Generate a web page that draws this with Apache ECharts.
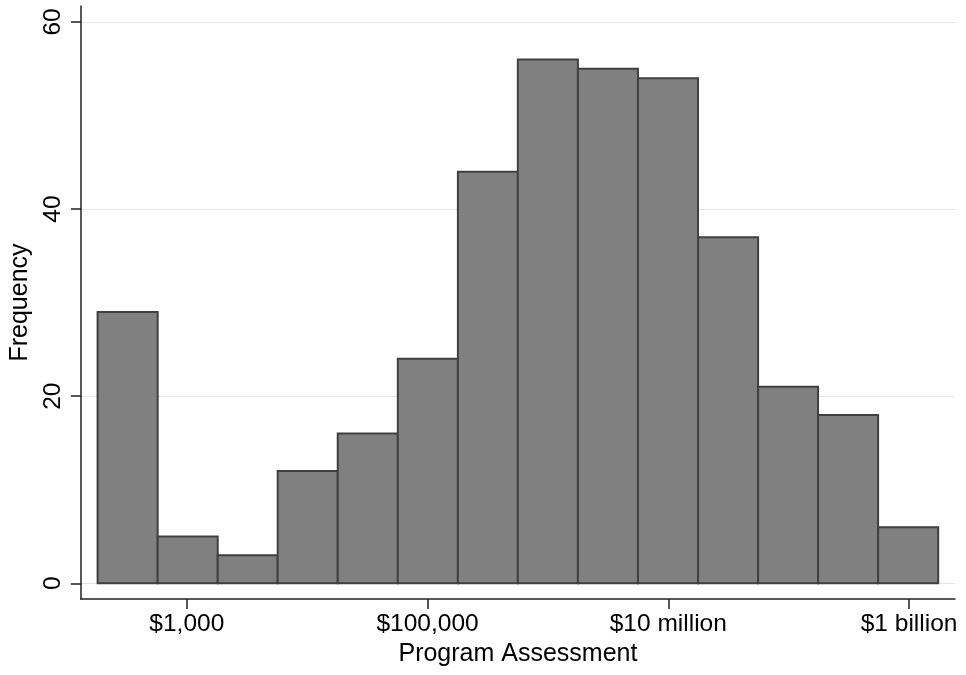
<!DOCTYPE html>
<html>
<head>
<meta charset="utf-8">
<title>Program Assessment histogram</title>
<script src="https://cdn.jsdelivr.net/npm/echarts@6/dist/echarts.min.js"></script>
<style>
  html, body { margin: 0; padding: 0; background: #ffffff; }
  #chart { width: 966px; height: 675px; }
</style>
</head>
<body>
<div id="chart"></div>
<script>
// Histogram bins on a log10 dollar scale: edges[i]..edges[i+1] holds counts[i]
const binEdges = [2.259, 2.758, 3.257, 3.755, 4.254, 4.753, 5.252, 5.750,
                  6.249, 6.748, 7.247, 7.746, 8.244, 8.743, 9.242];
const counts = [29, 5, 3, 12, 16, 24, 44, 56, 55, 54, 37, 21, 18, 6];

// Axis ticks (log10 of dollars) and their labels
const xTickValues = [3, 5, 7, 9];
const xTickLabels = ['$1,000', '$100,000', '$10 million', '$1 billion'];
const yTickValues = [0, 20, 40, 60];

const histData = counts.map((c, i) => [binEdges[i], binEdges[i + 1], c]);

const FONT = '"Liberation Sans", Arial, Helvetica, sans-serif';
const AXIS_COLOR = '#222222';

const chart = echarts.init(document.getElementById('chart'), null, { renderer: 'canvas' });

chart.setOption({
  animation: false,
  backgroundColor: '#ffffff',
  grid: { left: 80, right: 11, top: 6, bottom: 76, containLabel: false },
  xAxis: {
    type: 'value',
    min: 2.1203,
    max: 9.3817,
    name: 'Program Assessment',
    nameLocation: 'middle',
    nameGap: 41,
    nameTextStyle: { fontFamily: FONT, fontSize: 25, color: '#000' },
    axisLine: { show: true, onZero: false, lineStyle: { color: AXIS_COLOR, width: 1.5 } },
    axisTick: {
      show: true, length: 10, inside: false, customValues: xTickValues,
      lineStyle: { color: AXIS_COLOR, width: 1.5 }
    },
    axisLabel: {
      show: true, margin: 13, customValues: xTickValues,
      fontFamily: FONT, fontSize: 24.5, color: '#000',
      formatter: v => xTickLabels[xTickValues.indexOf(v)] || ''
    },
    splitLine: { show: false }
  },
  yAxis: {
    type: 'value',
    min: -1.68,
    max: 61.71,
    name: 'Frequency',
    nameLocation: 'middle',
    nameRotate: 90,
    nameGap: 45,
    nameTextStyle: { fontFamily: FONT, fontSize: 25, color: '#000' },
    axisLine: { show: true, onZero: false, lineStyle: { color: AXIS_COLOR, width: 1.5 } },
    axisTick: {
      show: true, length: 10, inside: false, customValues: yTickValues,
      lineStyle: { color: AXIS_COLOR, width: 1.5 }
    },
    axisLabel: {
      show: true, margin: 15, rotate: 90, customValues: yTickValues,
      fontFamily: FONT, fontSize: 24.5, color: '#000'
    },
    splitLine: { show: true, lineStyle: { color: '#e6e6e6', width: 1 } }
  },
  series: [{
    type: 'custom',
    data: histData,
    encode: { x: [0, 1], y: 2 },
    renderItem: function (params, api) {
      const topLeft = api.coord([api.value(0), api.value(2)]);
      const bottomRight = api.coord([api.value(1), 0]);
      return {
        type: 'rect',
        shape: {
          x: topLeft[0],
          y: topLeft[1],
          width: bottomRight[0] - topLeft[0],
          height: bottomRight[1] - topLeft[1]
        },
        style: { fill: '#808080', stroke: '#404040', lineWidth: 2 }
      };
    }
  }]
});
</script>
</body>
</html>
